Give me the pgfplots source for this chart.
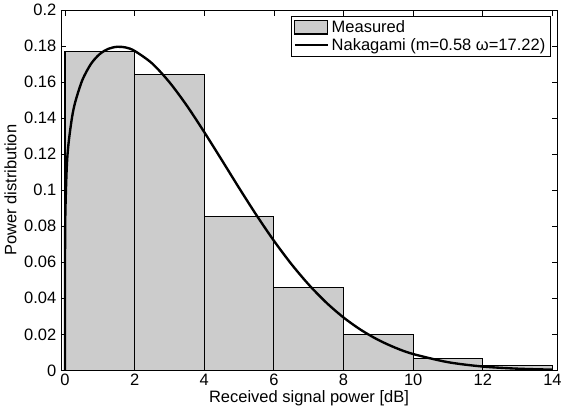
\documentclass[border=0pt]{standalone}
\usepackage{fontspec}
\setmainfont{Liberation Sans}
\usepackage{pgfplots}
\pgfplotsset{compat=1.18}
\begin{document}
\begin{tikzpicture}
\begin{axis}[
  scale only axis,
  width=376pt, height=273pt,
  xmin=-0.115, xmax=14.13,
  ymin=0, ymax=0.2,
  xtick={0,2,...,14},
  ytick={0,0.02,...,0.2},
  yticklabels={0,0.02,0.04,0.06,0.08,0.1,0.12,0.14,0.16,0.18,0.2},
  tick align=inside,
  major tick length=4pt,
  tick style={black, line width=0.6pt},
  axis line style={line width=0.7pt},
  /pgf/number format/assume math mode=true,
  font=\fontsize{12.5}{14}\selectfont,
  xticklabel style={yshift=1pt},
  xlabel={Received signal power [dB]},
  ylabel={Power distribution},
  xlabel style={yshift=3pt},
  ylabel style={yshift=-1pt},
  legend style={at={(0.988,0.984)}, anchor=north east, draw=black, line width=0.7pt,
    font=\fontsize{12.5}{14}\selectfont, row sep=-1pt, inner xsep=2pt, inner ysep=1pt, cells={anchor=west}},
  legend cell align=left,
  clip=false,
]
\addplot[ybar interval, fill={rgb,255:red,204;green,204;blue,204}, draw=black, line width=0.8pt,
  legend image code/.code={\draw[fill={rgb,255:red,204;green,204;blue,204}, draw=black, line width=0.8pt] (0pt,-5pt) rectangle (25pt,5.5pt);}]
  coordinates {(0,0.1773) (2,0.1643) (4,0.0856) (6,0.0459) (8,0.0197) (10,0.0065) (12,0.0029) (14,0.0029)};
\addlegendentry{Measured}
\addplot[black, line width=1.8pt, mark=none, smooth, legend image code/.code={\draw[black, line width=1.8pt] (0pt,0pt) -- (25pt,0pt);}]
  coordinates {
  (0,0) (0.001,0.0602) (0.01,0.0870) (0.05,0.1125) (0.1,0.1257) (0.2,0.1403) (0.3,0.1494)
  (0.5,0.1613) (0.75,0.1703) (1,0.1757) (1.25,0.1786) (1.5,0.1797) (1.75,0.1793)
  (2,0.1774) (2.5,0.1705) (3,0.1600) (3.5,0.1470) (4,0.1323) (4.5,0.1169) (5,0.1013)
  (5.5,0.08617) (6,0.07198) (6.5,0.05907) (7,0.04763) (7.5,0.03771) (8,0.02935)
  (8.5,0.02245) (9,0.01687) (9.5,0.01246) (10,0.00905) (11,0.00453) (12,0.00211)
  (13,0.00092) (14,0.00038)};
\addlegendentry{Nakagami (m=0.58 ω=17.22)}
\end{axis}
\end{tikzpicture}
\end{document}
